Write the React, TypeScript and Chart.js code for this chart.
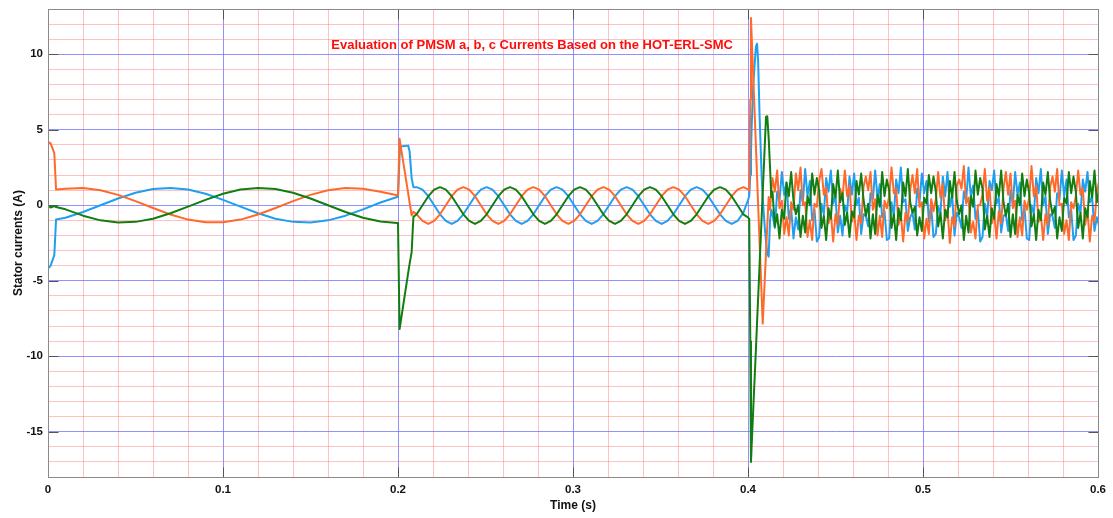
import React, { useEffect, useRef } from "react";
import { Chart, registerables } from "chart.js";

Chart.register(...registerables);

const FONT = "'Liberation Sans', Arial, Helvetica, sans-serif";
const TITLE = "Evaluation of PMSM a, b, c Currents Based on the HOT-ERL-SMC";
const X_LABEL = "Time (s)";
const Y_LABEL = "Stator currents (A)";
const X_TICKS = [0, 0.1, 0.2, 0.3, 0.4, 0.5, 0.6];
const Y_TICKS = [-15, -10, -5, 0, 5, 10];

// ---- Segment 1: start-up (0 .. 0.2 s) ----
const T1 = [0, 0.0015, 0.0036, 0.0046, 0.01, 0.02, 0.03, 0.04, 0.05, 0.06, 0.07, 0.08, 0.09, 0.1, 0.11, 0.12, 0.13, 0.14, 0.15, 0.16, 0.17, 0.18, 0.19, 0.1995];
const O1 = [4.2, 4.1, 3.45, 1.05, 1.1, 1.14, 1.0, 0.69, 0.27, -0.18, -0.61, -0.95, -1.13, -1.13, -0.95, -0.61, -0.18, 0.27, 0.69, 1.0, 1.14, 1.1, 0.89, 0.66];
const B1 = [-4.2, -4.0, -3.3, -0.95, -0.83, -0.45, 0, 0.45, 0.83, 1.08, 1.15, 1.04, 0.76, 0.36, -0.09, -0.53, -0.89, -1.1, -1.14, -1.0, -0.69, -0.27, 0.18, 0.55];
const G1 = [0, -0.15, -0.05, -0.12, -0.27, -0.69, -1.0, -1.14, -1.1, -0.89, -0.53, -0.09, 0.36, 0.76, 1.04, 1.15, 1.08, 0.83, 0.45, 0, -0.45, -0.83, -1.08, -1.17];

// ---- Transient at 0.2 s ----
const T2A = [0.2, 0.2009, 0.2013, 0.2058, 0.2066, 0.2078, 0.2088];
const O2A = [0.66, 4.4, 4.1, 0.8, 0.2, -0.66, -0.44];
const B2A = [0.55, 3.3, 3.9, 3.95, 3.6, 1.8, 1.2];
const G2A = [-1.17, -8.2, -7.9, -4.5, -3.9, -3.1, -0.77];

// ---- Segment 2: steady state (0.2107 .. 0.3973 s), sampled every 1/300 s ----
const T2_START = 0.210667;
const T2_STEP = 1 / 300;
const O2 = [
  -0.6, -1.04, -1.24, -1.04, -0.6, 0, 0.6, 1.04, 1.2, 1.04, 0.6, 0,
  -0.6, -1.04, -1.24, -1.04, -0.6, 0, 0.6, 1.04, 1.2, 1.04, 0.6, 0,
  -0.6, -1.04, -1.24, -1.04, -0.6, 0, 0.6, 1.04, 1.2, 1.04, 0.6, 0,
  -0.6, -1.04, -1.24, -1.04, -0.6, 0, 0.6, 1.04, 1.2, 1.04, 0.6, 0,
  -0.6, -1.04, -1.24, -1.04, -0.6, 0, 0.6, 1.04, 1.2,
];
const B2 = [
  1.2, 1.04, 0.6, 0, -0.6, -1.04, -1.24, -1.04, -0.6, 0, 0.6, 1.04,
  1.2, 1.04, 0.6, 0, -0.6, -1.04, -1.24, -1.04, -0.6, 0, 0.6, 1.04,
  1.2, 1.04, 0.6, 0, -0.6, -1.04, -1.24, -1.04, -0.6, 0, 0.6, 1.04,
  1.2, 1.04, 0.6, 0, -0.6, -1.04, -1.24, -1.04, -0.6, 0, 0.6, 1.04,
  1.2, 1.04, 0.6, 0, -0.6, -1.04, -1.24, -1.04, -0.5,
];
const G2 = [
  -0.6, 0, 0.6, 1.04, 1.2, 1.04, 0.6, 0, -0.6, -1.04, -1.24, -1.04,
  -0.6, 0, 0.6, 1.04, 1.2, 1.04, 0.6, 0, -0.6, -1.04, -1.24, -1.04,
  -0.6, 0, 0.6, 1.04, 1.2, 1.04, 0.6, 0, -0.6, -1.04, -1.24, -1.04,
  -0.6, 0, 0.6, 1.04, 1.2, 1.04, 0.6, 0, -0.6, -1.04, -1.24, -1.04,
  -0.6, 0, 0.6, 1.04, 1.2, 1.04, 0.6, 0, -0.6,
];

// ---- Transient at 0.4 s ----
const T3A = [0.4, 0.4007, 0.4013, 0.4017, 0.4021, 0.403, 0.4045, 0.4052, 0.4058, 0.4066, 0.4078, 0.4084, 0.4096, 0.4103, 0.411, 0.4118, 0.4126, 0.4133];
const O3A = [1.05, 1.0, 7.0, 12.4, 11.2, 8.5, 4.0, 1.8, 0.0, -2.4, -6.0, -7.84, -4.9, -3.1, -1.4, 0.55, -0.3, 0.9];
const B3A = [0.35, 0.6, 2.0, 3.5, 5.2, 8.0, 10.5, 10.7, 9.5, 6.0, 1.9, 0.5, -1.5, -2.4, -3.2, -3.4, -1.0, -0.3];
const G3A = [-0.8, -0.9, -9.0, -17.0, -15.9, -13.5, -9.6, -7.7, -6.1, -4.0, -0.8, 0.8, 4.0, 5.85, 5.9, 4.5, 2.5, 0.55];

// ---- Segment 3: noisy steady state (0.414 .. 0.6 s), sampled every 1/750 s ----
const T3_START = 0.414;
const T3_STEP = 1 / 750;
const O3 = [
  1.8, 0.9, 2.3, -0.2, 0.3, -1.9, -0.8, -2.0, 0.2, -0.3,
  2.1, 1.0, 2.5, 0.0, 0.2, -2.1, -1.0, -2.3, 0.1, -0.1,
  1.6, 2.4, 0.7, 1.2, -1.2, -0.5, -2.4, -0.6, -1.3, 1.1,
  0.5, 2.3, 0.6, 1.3, -1.1, -0.4, -2.3, -0.7, -1.2, 1.2,
  1.9, 1.0, 2.2, -0.3, 0.4, -2.0, -0.7, -2.1, 0.3, -0.2,
  0.6, 2.5, 0.8, 1.1, -1.3, -0.6, -2.4, -0.5, -1.1, 1.0,
  2.0, 0.8, 2.4, -0.1, 0.2, -2.2, -0.9, -1.9, 0.4, -0.4,
  0.4, 2.2, 0.5, 1.4, -1.0, -0.3, -2.5, -0.8, -1.4, 1.3,
  1.7, 1.1, 2.6, 0.1, 0.5, -1.8, -1.1, -2.2, 0.0, 0.0,
  0.7, 2.4, 0.3, 1.2, -1.2, -0.5, -2.2, -0.4, -1.2, 1.1,
  2.2, 0.7, 2.1, -0.2, 0.3, -2.1, -0.8, -2.0, 0.3, -0.3,
  0.5, 2.6, 0.6, 1.3, -1.1, -0.6, -2.3, -0.6, -1.3, 1.2,
  1.9, 0.9, 2.4, 0.0, 0.1, -1.9, -1.0, -2.3, 0.2, -0.2,
  0.6, 2.3, 0.7, 1.1, -1.3, -0.4, -2.4, -0.7, -1.1, 0.9,
  1.6,
];
const B3 = [
  -0.6, -1.5, 0.9, 0.3, 2.2, 0.7, 1.5, -0.9, -0.2, -2.2,
  -0.8, -1.6, 1.0, 0.2, 2.4, 0.6, 1.6, -1.0, -0.3, -2.4,
  -2.1, 0.1, -0.6, 1.8, 0.9, 2.3, 0.1, 0.6, -1.8, -0.7,
  -2.0, 0.0, -0.5, 1.9, 0.7, 2.1, 0.0, 0.5, -1.9, -0.6,
  -0.7, -1.4, 0.8, 0.4, 2.3, 0.5, 1.4, -0.8, -0.4, -2.3,
  -2.2, 0.2, -0.7, 1.7, 0.8, 2.5, 0.2, 0.4, -1.7, -0.8,
  -0.5, -1.6, 1.1, 0.2, 2.1, 0.8, 1.6, -1.1, -0.1, -2.1,
  -1.9, -0.1, -0.5, 1.9, 0.6, 2.2, -0.1, 0.7, -2.0, -0.5,
  -0.8, -1.5, 0.9, 0.3, 2.5, 0.6, 1.3, -0.9, -0.3, -2.4,
  -2.1, 0.1, -0.8, 1.6, 1.0, 2.3, 0.1, 0.5, -1.8, -0.7,
  -0.6, -1.7, 1.0, 0.1, 2.2, 0.7, 1.5, -1.0, -0.2, -2.2,
  -2.3, 0.0, -0.6, 1.8, 0.8, 2.4, 0.0, 0.6, -1.9, -0.6,
  -0.7, -1.5, 0.8, 0.4, 2.3, 0.6, 1.7, -0.8, -0.3, -2.3,
  -2.0, 0.1, -0.5, 1.7, 0.9, 2.2, 0.2, 0.5, -1.7, -0.8,
  -1.4,
];
const G3 = [
  0.9, -1.4, -0.6, -2.2, -0.3, -0.9, 1.5, 0.6, 2.2, 0.3,
  -0.6, 0.0, -2.1, -0.7, -1.8, 0.6, 0.0, 2.1, 0.7, 1.8,
  1.0, -1.5, -0.7, -2.3, -0.2, -0.9, 1.4, 0.5, 2.3, 0.2,
  0.8, -1.3, -0.5, -2.1, -0.4, -0.8, 1.6, 0.7, 2.1, 0.4,
  -0.7, 0.1, -2.2, -0.6, -1.9, 0.7, -0.1, 2.2, 0.6, 1.7,
  1.0, -1.5, -0.6, -2.3, -0.2, -1.0, 1.5, 0.6, 2.4, 0.2,
  -0.5, -0.1, -2.0, -0.8, -1.7, 0.5, 0.1, 2.0, 0.8, 1.9,
  0.9, -1.4, -0.5, -2.2, -0.3, -0.8, 1.6, 0.5, 2.2, 0.3,
  -0.6, 0.0, -2.3, -0.7, -1.8, 0.6, -0.1, 2.3, 0.7, 1.8,
  1.1, -1.6, -0.7, -2.1, -0.2, -0.9, 1.4, 0.6, 2.3, 0.2,
  -0.7, 0.1, -2.1, -0.6, -1.9, 0.7, 0.0, 2.1, 0.6, 1.7,
  0.8, -1.4, -0.6, -2.3, -0.3, -1.0, 1.5, 0.7, 2.2, 0.3,
  -0.6, -0.1, -2.2, -0.8, -1.7, 0.5, 0.1, 2.2, 0.8, 1.9,
  0.9, -1.5, -0.5, -2.2, -0.2, -0.8, 1.6, 0.5, 2.3, 0.2,
  1.0,
];

const COLORS = { blue: "#1E9FF2", orange: "#FF6A2B", green: "#117E11" };
const MAJOR_GRID = "rgba(110,110,255,0.75)";
const MINOR_GRID = "rgba(255,110,110,0.42)";
const FRAME = "#8a8a8a";
const TICK_MARK = "#555555";

function uniformTimes(start: number, step: number, n: number): number[] {
  const out: number[] = [];
  for (let i = 0; i < n; i++) out.push(+(start + i * step).toFixed(6));
  return out;
}

function join(parts: Array<[number[], number[]]>) {
  const pts: { x: number; y: number }[] = [];
  for (const [t, v] of parts) {
    for (let i = 0; i < Math.min(t.length, v.length); i++) pts.push({ x: t[i], y: v[i] });
  }
  return pts;
}

const T2 = uniformTimes(T2_START, T2_STEP, O2.length);
const T3 = uniformTimes(T3_START, T3_STEP, O3.length);

const isMajor = (list: number[], v: number) => list.some((m) => Math.abs(m - v) < 1e-9);

const framePlugin = {
  id: "frameAndTitle",
  afterDraw(chart: any) {
    const { ctx, chartArea: a, scales } = chart;
    const x0 = Math.round(scales.x.getPixelForValue(X_TICKS[0])) + 0.5;
    const x1 = Math.round(scales.x.getPixelForValue(X_TICKS[X_TICKS.length - 1])) + 0.5;
    const yTop = Math.round(a.top) + 0.5;
    const yBot = Math.round(a.bottom) + 0.5;
    ctx.save();
    // inner tick marks
    ctx.strokeStyle = TICK_MARK;
    ctx.lineWidth = 1;
    const L = 10;
    ctx.beginPath();
    for (const v of X_TICKS) {
      const px = Math.round(scales.x.getPixelForValue(v)) + 0.5;
      ctx.moveTo(px, yBot);
      ctx.lineTo(px, yBot - L);
      ctx.moveTo(px, yTop);
      ctx.lineTo(px, yTop + L);
    }
    for (const v of Y_TICKS) {
      const py = Math.round(scales.y.getPixelForValue(v)) + 0.5;
      ctx.moveTo(x0, py);
      ctx.lineTo(x0 + L, py);
      ctx.moveTo(x1, py);
      ctx.lineTo(x1 - L, py);
    }
    ctx.stroke();
    // box
    ctx.strokeStyle = FRAME;
    ctx.strokeRect(x0, yTop, x1 - x0, yBot - yTop);
    // title inside the axes
    ctx.fillStyle = "#ff0d0d";
    ctx.font = `bold 13px ${FONT}`;
    ctx.textAlign = "center";
    ctx.textBaseline = "middle";
    ctx.fillText(TITLE, a.left + a.width * 0.461, a.top + 36);
    ctx.restore();
  },
};

export default function App() {
  const canvasRef = useRef<HTMLCanvasElement | null>(null);

  useEffect(() => {
    const canvas = canvasRef.current;
    if (!canvas) return;
    const line = (label: string, color: string, data: any) => ({
      label,
      data,
      borderColor: color,
      backgroundColor: color,
      borderWidth: 2,
      pointRadius: 0,
      tension: 0,
      fill: false,
      borderJoinStyle: "round" as const,
    });
    const chart = new Chart(canvas, {
      type: "line",
      data: {
        datasets: [
          line("c", COLORS.green, join([[T1, G1], [T2A, G2A], [T2, G2], [T3A, G3A], [T3, G3]])),
          line("b", COLORS.orange, join([[T1, O1], [T2A, O2A], [T2, O2], [T3A, O3A], [T3, O3]])),
          line("a", COLORS.blue, join([[T1, B1], [T2A, B2A], [T2, B2], [T3A, B3A], [T3, B3]])),
        ],
      },
      options: {
        animation: false,
        responsive: false,
        events: [],
        layout: { padding: { left: 0, right: 15, top: 9, bottom: 0 } },
        plugins: { legend: { display: false }, tooltip: { enabled: false }, title: { display: false } },
        scales: {
          x: {
            type: "linear",
            min: 0,
            max: 0.6,
            afterFit: (s: any) => {
              s.height = 41;
              s.paddingLeft = 0;
              s.paddingRight = 0;
            },
            border: { display: false },
            grid: {
              drawTicks: false,
              lineWidth: 1,
              color: (c: any) => (isMajor(X_TICKS, c.tick?.value) ? MAJOR_GRID : MINOR_GRID),
            },
            ticks: {
              stepSize: 0.02,
              autoSkip: false,
              maxRotation: 0,
              padding: 6,
              color: "#111",
              font: { family: FONT, size: 11.5, weight: "bold" },
              callback: (v: any) => {
                const m = X_TICKS.find((t) => Math.abs(t - v) < 1e-9);
                return m === undefined ? "" : String(m);
              },
            },
            title: {
              display: true,
              text: X_LABEL,
              color: "#111",
              font: { family: FONT, size: 12, weight: "bold" },
              padding: { top: 0, bottom: 5 },
            },
          },
          y: {
            type: "linear",
            min: -18,
            max: 13,
            afterFit: (s: any) => {
              s.width = 48;
              s.paddingTop = 0;
              s.paddingBottom = 0;
            },
            border: { display: false },
            grid: {
              drawTicks: false,
              lineWidth: 1,
              color: (c: any) => (isMajor(Y_TICKS, c.tick?.value) ? MAJOR_GRID : MINOR_GRID),
            },
            ticks: {
              stepSize: 1,
              autoSkip: false,
              padding: 5,
              color: "#111",
              font: { family: FONT, size: 11.5, weight: "bold" },
              callback: (v: any) => {
                const m = Y_TICKS.find((t) => Math.abs(t - v) < 1e-9);
                return m === undefined ? "" : String(m);
              },
            },
            title: {
              display: true,
              text: Y_LABEL,
              color: "#111",
              font: { family: FONT, size: 12, weight: "bold" },
              padding: { top: 11, bottom: 0 },
            },
          },
        },
      },
      plugins: [framePlugin],
    } as any);
    return () => chart.destroy();
  }, []);

  return (
    <div style={{ position: "fixed", left: 0, top: 0, width: 1113, height: 518, background: "#fff" }}>
      <canvas ref={canvasRef} width={1113} height={518} style={{ display: "block", width: 1113, height: 518 }} />
    </div>
  );
}
